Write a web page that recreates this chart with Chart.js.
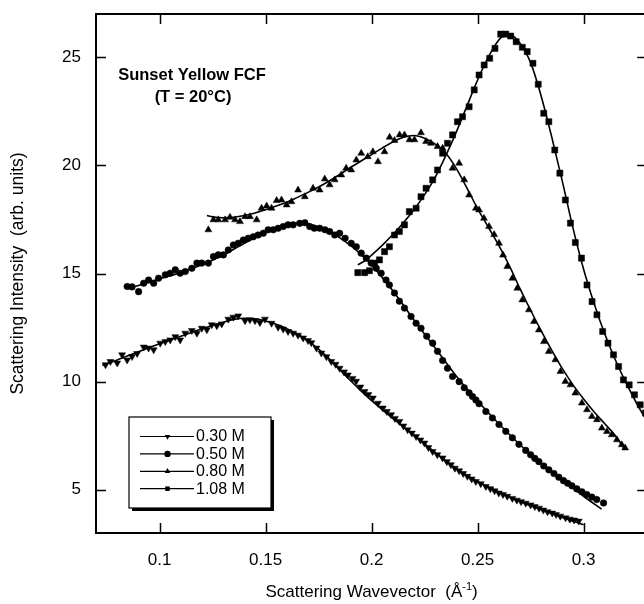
<!DOCTYPE html>
<html lang="en">
<head>
<meta charset="UTF-8">
<title>Sunset Yellow FCF - scattering</title>
<script src="https://cdn.jsdelivr.net/npm/chart.js"></script>
<style>
  html, body { margin: 0; padding: 0; background: #fff; overflow: hidden; }
  canvas { display: block; }
</style>
</head>
<body>
<canvas id="chart" width="652" height="604"></canvas>
<script>
const FONT = "'Liberation Sans', Arial, Helvetica, sans-serif";

const seriesLabels = ['0.30 M', '0.50 M', '0.80 M', '1.08 M'];
const xTicks = [0.1, 0.15, 0.2, 0.25, 0.3];
const yTicks = [5, 10, 15, 20, 25];

// measured points [q, intensity]
const obs030 = [[0.0745,10.78],[0.0768,10.93],[0.0800,10.86],[0.0823,11.24],[0.0847,11.00],[0.0870,11.16],[0.0894,11.30],[0.0925,11.60],[0.0948,11.55],[0.0972,11.47],[0.1003,11.78],[0.1027,11.85],[0.1050,11.93],[0.1074,12.08],[0.1097,11.93],[0.1121,12.24],[0.1152,12.36],[0.1176,12.24],[0.1199,12.47],[0.1223,12.40],[0.1246,12.63],[0.1270,12.58],[0.1293,12.67],[0.1324,12.89],[0.1348,12.98],[0.1371,13.04],[0.1403,12.82],[0.1426,12.86],[0.1450,12.82],[0.1473,12.73],[0.1497,12.89],[0.1528,12.70],[0.1559,12.52],[0.1583,12.43],[0.1606,12.32],[0.1630,12.24],[0.1653,12.15],[0.1677,12.02],[0.1700,11.90],[0.1716,11.80],[0.1740,11.55],[0.1763,11.32],[0.1787,11.15],[0.1810,10.93],[0.1830,10.80],[0.1849,10.62],[0.1870,10.45],[0.1888,10.31],[0.1910,10.15],[0.1927,10.02],[0.1947,9.75],[0.1967,9.54],[0.1985,9.40],[0.2006,9.24],[0.2030,9.00],[0.2053,8.78],[0.2072,8.62],[0.2092,8.47],[0.2110,8.30],[0.2131,8.16],[0.2150,7.95],[0.2170,7.77],[0.2190,7.62],[0.2210,7.46],[0.2230,7.30],[0.2249,7.16],[0.2268,6.95],[0.2288,6.77],[0.2310,6.62],[0.2335,6.47],[0.2355,6.30],[0.2374,6.16],[0.2393,6.00],[0.2413,5.88],[0.2432,5.75],[0.2452,5.62],[0.2472,5.50],[0.2492,5.38],[0.2515,5.28],[0.2539,5.15],[0.2560,5.05],[0.2580,4.95],[0.2600,4.85],[0.2620,4.78],[0.2640,4.70],[0.2664,4.60],[0.2685,4.52],[0.2705,4.45],[0.2727,4.38],[0.2750,4.30],[0.2770,4.22],[0.2790,4.15],[0.2810,4.06],[0.2830,3.98],[0.2852,3.92],[0.2870,3.85],[0.2890,3.78],[0.2915,3.70],[0.2935,3.64],[0.2955,3.60],[0.2977,3.55]];

const obs050 = [[0.0847,14.40],[0.0870,14.38],[0.0901,14.16],[0.0925,14.55],[0.0948,14.70],[0.0972,14.55],[0.0995,14.78],[0.1027,14.94],[0.1050,15.01],[0.1074,15.17],[0.1097,15.01],[0.1121,15.09],[0.1152,15.24],[0.1176,15.48],[0.1199,15.48],[0.1230,15.48],[0.1254,15.78],[0.1277,15.86],[0.1301,15.86],[0.1324,16.09],[0.1348,16.32],[0.1371,16.40],[0.1395,16.55],[0.1418,16.63],[0.1442,16.70],[0.1465,16.78],[0.1489,16.86],[0.1512,17.02],[0.1536,17.02],[0.1559,17.09],[0.1583,17.17],[0.1606,17.25],[0.1630,17.25],[0.1661,17.32],[0.1685,17.35],[0.1708,17.17],[0.1730,17.09],[0.1755,17.09],[0.1780,17.02],[0.1802,16.94],[0.1826,16.78],[0.1849,16.86],[0.1875,16.63],[0.1904,16.40],[0.1928,16.24],[0.1951,15.94],[0.1975,15.71],[0.1998,15.48],[0.2022,15.24],[0.2045,15.01],[0.2068,14.70],[0.2084,14.47],[0.2108,14.10],[0.2131,13.72],[0.2155,13.40],[0.2186,13.01],[0.2210,12.70],[0.2233,12.47],[0.2260,12.10],[0.2288,11.78],[0.2311,11.40],[0.2335,10.98],[0.2358,10.62],[0.2382,10.24],[0.2413,10.00],[0.2437,9.72],[0.2460,9.48],[0.2476,9.31],[0.2492,9.15],[0.2507,8.98],[0.2539,8.62],[0.2570,8.32],[0.2601,8.02],[0.2633,7.70],[0.2664,7.40],[0.2695,7.10],[0.2727,6.82],[0.2750,6.62],[0.2770,6.45],[0.2789,6.30],[0.2812,6.10],[0.2836,5.92],[0.2860,5.75],[0.2883,5.58],[0.2905,5.42],[0.2925,5.30],[0.2945,5.18],[0.2968,5.04],[0.2992,4.90],[0.3015,4.78],[0.3039,4.66],[0.3062,4.55],[0.3094,4.39]];

const obs080 = [[0.1230,17.02],[0.1254,17.48],[0.1277,17.48],[0.1309,17.48],[0.1332,17.60],[0.1356,17.48],[0.1379,17.40],[0.1403,17.63],[0.1426,17.63],[0.1458,17.48],[0.1481,18.02],[0.1505,18.12],[0.1528,18.02],[0.1552,18.37],[0.1575,18.40],[0.1599,18.17],[0.1622,18.32],[0.1653,18.86],[0.1685,18.55],[0.1724,18.94],[0.1755,18.86],[0.1779,19.37],[0.1802,19.10],[0.1826,19.33],[0.1857,19.56],[0.1880,19.87],[0.1904,19.79],[0.1928,20.25],[0.1951,20.56],[0.1982,20.40],[0.2006,20.63],[0.2030,20.17],[0.2061,20.63],[0.2085,21.30],[0.2108,21.15],[0.2132,21.41],[0.2155,21.41],[0.2179,21.18],[0.2202,21.18],[0.2233,21.51],[0.2257,21.10],[0.2280,21.02],[0.2311,20.87],[0.2335,20.79],[0.2382,19.87],[0.2413,20.10],[0.2437,19.33],[0.2460,18.63],[0.2492,18.02],[0.2507,17.94],[0.2530,17.55],[0.2554,17.17],[0.2578,16.80],[0.2601,16.40],[0.2620,15.85],[0.2640,15.32],[0.2664,14.78],[0.2687,14.32],[0.2711,13.78],[0.2742,13.32],[0.2766,12.78],[0.2789,12.39],[0.2813,11.85],[0.2836,11.39],[0.2867,11.01],[0.2891,10.47],[0.2914,10.01],[0.2938,9.85],[0.2961,9.47],[0.2992,9.01],[0.3016,8.70],[0.3039,8.39],[0.3063,8.24],[0.3086,7.85],[0.3110,7.69],[0.3133,7.54],[0.3157,7.31],[0.3180,7.08],[0.3196,6.93]];

const obs108 = [[0.1935,15.04],[0.1967,15.04],[0.1990,15.13],[0.2014,15.48],[0.2037,15.63],[0.2061,16.01],[0.2084,16.24],[0.2108,16.78],[0.2131,16.94],[0.2155,17.25],[0.2178,17.86],[0.2210,18.02],[0.2233,18.55],[0.2257,18.94],[0.2288,19.33],[0.2311,19.79],[0.2335,20.56],[0.2358,21.02],[0.2382,21.41],[0.2405,22.02],[0.2429,22.25],[0.2460,22.71],[0.2484,23.49],[0.2507,24.18],[0.2531,24.64],[0.2557,24.95],[0.2582,25.41],[0.2609,26.07],[0.2633,26.07],[0.2656,25.98],[0.2682,25.72],[0.2711,25.46],[0.2734,25.26],[0.2761,24.72],[0.2786,23.75],[0.2812,22.41],[0.2836,22.02],[0.2864,20.71],[0.2888,19.64],[0.2914,18.40],[0.2938,17.33],[0.2961,16.43],[0.2990,15.71],[0.3016,14.47],[0.3040,13.70],[0.3063,13.09],[0.3090,12.32],[0.3115,11.78],[0.3141,11.24],[0.3165,10.70],[0.3188,10.08],[0.3215,9.85],[0.3240,9.39],[0.3267,8.93],[0.3292,8.55]];

// fitted curves
const fit030 = [[0.073,10.75],[0.08,11.0],[0.09,11.38],[0.10,11.75],[0.11,12.1],[0.12,12.45],[0.13,12.75],[0.135,12.88],[0.14,12.93],[0.145,12.9],[0.15,12.8],[0.155,12.65],[0.16,12.45],[0.165,12.2],[0.17,11.88],[0.175,11.5],[0.18,11.05],[0.185,10.55],[0.19,10.05],[0.195,9.57],[0.20,9.12],[0.21,8.3],[0.22,7.52],[0.23,6.72],[0.24,5.97],[0.25,5.38],[0.26,4.9],[0.27,4.46],[0.28,4.08],[0.29,3.72],[0.30,3.38]];
const fit050 = [[0.085,14.3],[0.09,14.45],[0.10,14.75],[0.11,15.05],[0.12,15.4],[0.13,15.85],[0.14,16.4],[0.15,16.9],[0.155,17.1],[0.16,17.25],[0.165,17.33],[0.17,17.3],[0.175,17.15],[0.18,16.95],[0.185,16.65],[0.19,16.3],[0.195,15.88],[0.20,15.4],[0.21,14.2],[0.22,12.85],[0.23,11.55],[0.24,10.25],[0.25,9.1],[0.26,8.05],[0.27,7.08],[0.28,6.2],[0.29,5.45],[0.30,4.7],[0.3085,4.1]];
const fit080 = [[0.1223,17.68],[0.125,17.62],[0.13,17.58],[0.135,17.6],[0.14,17.68],[0.145,17.8],[0.15,17.95],[0.155,18.12],[0.16,18.3],[0.165,18.52],[0.17,18.75],[0.175,19.0],[0.18,19.28],[0.185,19.58],[0.19,19.9],[0.195,20.2],[0.20,20.5],[0.205,20.8],[0.21,21.08],[0.215,21.3],[0.22,21.38],[0.225,21.25],[0.23,20.98],[0.235,20.56],[0.24,19.85],[0.245,18.95],[0.25,18.0],[0.255,17.15],[0.26,16.3],[0.265,15.35],[0.27,14.3],[0.275,13.3],[0.28,12.35],[0.285,11.45],[0.29,10.6],[0.295,9.85],[0.30,9.2],[0.305,8.6],[0.31,8.05],[0.315,7.5],[0.3195,6.85]];
const fit108 = [[0.1935,15.4],[0.197,15.6],[0.20,15.85],[0.205,16.3],[0.21,16.8],[0.215,17.35],[0.22,17.95],[0.225,18.65],[0.23,19.45],[0.235,20.45],[0.24,21.55],[0.245,22.75],[0.25,23.95],[0.255,25.0],[0.26,25.8],[0.2625,26.02],[0.265,26.05],[0.27,25.65],[0.275,24.75],[0.28,23.2],[0.285,21.3],[0.29,19.25],[0.295,17.1],[0.30,15.2],[0.305,13.6],[0.31,12.2],[0.315,11.0],[0.32,9.95],[0.325,9.0],[0.33,8.15]];

const observed = [obs030, obs050, obs080, obs108];
const fitted = [fit030, fit050, fit080, fit108];
const markers = [
  { style: 'triangle', rotation: 180, radius: 4 },
  { style: 'circle', rotation: 0, radius: 3.3 },
  { style: 'triangle', rotation: 0, radius: 4 },
  { style: 'rect', rotation: 0, radius: 4.3 }
];

const toXY = arr => arr.map(p => ({ x: p[0], y: p[1] }));

const datasets = [];
seriesLabels.forEach((label, i) => {
  datasets.push({
    label: label + ' fit',
    data: toXY(fitted[i]),
    showLine: true,
    borderColor: '#000',
    borderWidth: 1.6,
    pointRadius: 0,
    cubicInterpolationMode: 'monotone',
    fill: false,
    order: 1
  });
  datasets.push({
    label: label,
    data: toXY(observed[i]),
    showLine: false,
    pointStyle: markers[i].style,
    rotation: markers[i].rotation,
    pointRadius: markers[i].radius,
    pointBackgroundColor: '#000',
    pointBorderColor: '#000',
    pointBorderWidth: 0.5,
    order: 2
  });
});

function marker(ctx, style, rot, x, y, r) {
  ctx.beginPath();
  if (style === 'circle') {
    ctx.arc(x, y, r, 0, Math.PI * 2);
  } else if (style === 'rect') {
    const s = r * Math.SQRT1_2;
    ctx.rect(x - s, y - s, 2 * s, 2 * s);
  } else {
    const d = rot ? -1 : 1;
    ctx.moveTo(x, y - d * r);
    ctx.lineTo(x + r * 0.866, y + d * r * 0.5);
    ctx.lineTo(x - r * 0.866, y + d * r * 0.5);
    ctx.closePath();
  }
  ctx.fill();
}

const decorations = {
  id: 'decorations',
  afterDatasetsDraw(chart) {
    const { ctx, chartArea: a, scales: { x, y } } = chart;
    ctx.save();
    ctx.strokeStyle = '#000';
    ctx.fillStyle = '#000';

    // inward tick marks on all four sides
    const tl = 10;
    ctx.lineWidth = 1.5;
    ctx.beginPath();
    xTicks.forEach(v => {
      const px = Math.round(x.getPixelForValue(v)) + 0.5;
      ctx.moveTo(px, a.bottom); ctx.lineTo(px, a.bottom - tl);
      ctx.moveTo(px, a.top); ctx.lineTo(px, a.top + tl);
    });
    yTicks.forEach(v => {
      const py = Math.round(y.getPixelForValue(v)) + 0.5;
      ctx.moveTo(a.left, py); ctx.lineTo(a.left + tl, py);
      ctx.moveTo(a.right, py); ctx.lineTo(a.right - tl, py);
    });
    ctx.stroke();

    // frame
    ctx.lineWidth = 2;
    ctx.strokeRect(a.left, a.top, a.right - a.left, a.bottom - a.top);

    // title inside the plot
    ctx.textAlign = 'center';
    ctx.textBaseline = 'middle';
    ctx.font = 'bold 16.5px ' + FONT;
    ctx.fillText('Sunset Yellow FCF', a.left + 96, a.top + 61);
    ctx.fillText('(T = 20\u00B0C)', a.left + 97, a.top + 83);

    // legend box with drop shadow
    const bx = a.left + 33, by = a.top + 403, bw = 142, bh = 91;
    ctx.fillRect(bx + 3, by + 3, bw, bh);
    ctx.fillStyle = '#fff';
    ctx.fillRect(bx, by, bw, bh);
    ctx.lineWidth = 1.2;
    ctx.strokeRect(bx, by, bw, bh);
    ctx.fillStyle = '#000';
    ctx.font = '16px ' + FONT;
    ctx.textAlign = 'left';
    seriesLabels.forEach((label, i) => {
      const ry = by + 19.5 + i * 17.4;
      ctx.lineWidth = 1.2;
      ctx.beginPath();
      ctx.moveTo(bx + 11, ry); ctx.lineTo(bx + 65, ry);
      ctx.stroke();
      marker(ctx, markers[i].style, markers[i].rotation, bx + 38.5, ry, 3.2);
      ctx.fillText(label, bx + 67, ry + 0.5);
    });

    // x-axis title with superscript
    const cx = (a.left + a.right) / 2, ty = 591;
    const f1 = '17px ' + FONT, f2 = '11px ' + FONT;
    const p1 = 'Scattering Wavevector  (\u00C5', p2 = '-1', p3 = ')';
    ctx.font = f1; const w1 = ctx.measureText(p1).width, w3 = ctx.measureText(p3).width;
    ctx.font = f2; const w2 = ctx.measureText(p2).width;
    let sx = cx - (w1 + w2 + w3) / 2;
    ctx.textBaseline = 'alphabetic';
    ctx.font = f1; ctx.fillText(p1, sx, ty + 6); sx += w1;
    ctx.font = f2; ctx.fillText(p2, sx, ty - 1); sx += w2;
    ctx.font = f1; ctx.fillText(p3, sx, ty + 6);
    ctx.restore();
  }
};

new Chart(document.getElementById('chart'), {
  type: 'scatter',
  data: { datasets },
  plugins: [decorations],
  options: {
    responsive: false,
    animation: false,
    devicePixelRatio: 1,
    layout: { padding: { top: 14, right: 3, left: 0, bottom: 0 } },
    plugins: { legend: { display: false }, tooltip: { enabled: false } },
    scales: {
      x: {
        type: 'linear',
        min: 0.07,
        max: 0.33,
        afterBuildTicks: s => { s.ticks = xTicks.map(v => ({ value: v })); },
        afterFit: s => { s.height = 71; s.paddingLeft = 0; s.paddingRight = 0; },
        grid: { display: false, drawTicks: false },
        border: { display: false },
        ticks: {
          color: '#000',
          font: { family: FONT, size: 17 },
          padding: 17,
          maxRotation: 0,
          callback: v => String(v)
        }
      },
      y: {
        min: 3,
        max: 27,
        afterBuildTicks: s => { s.ticks = yTicks.map(v => ({ value: v })); },
        afterFit: s => { s.width = 96; s.paddingTop = 0; s.paddingBottom = 0; },
        grid: { display: false, drawTicks: false },
        border: { display: false },
        ticks: {
          color: '#000',
          font: { family: FONT, size: 17 },
          padding: 15
        },
        title: {
          display: true,
          text: 'Scattering Intensity  (arb. units)',
          color: '#000',
          font: { family: FONT, size: 17.5 },
          padding: { top: 8, bottom: 0 }
        }
      }
    }
  }
});
</script>
</body>
</html>
